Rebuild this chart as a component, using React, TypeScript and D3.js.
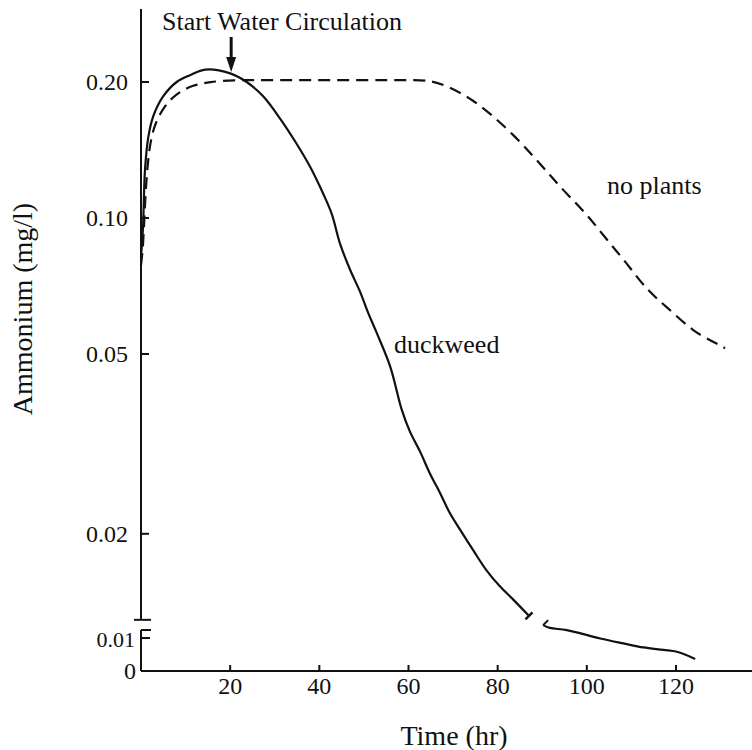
import React from 'react';
import * as d3 from 'd3';

// Duckweed (upper, log-scaled part)
const duckweedTime = [0, 0.45, 0.9, 1.64, 2.76, 5.0, 8.0, 11.0, 14.4, 20.0, 23.7, 27.4, 31.2, 34.9, 37.9, 40.9, 42.8, 44.6, 46.9, 49.1, 51.0, 52.9, 55.9, 58.5, 60.3, 62.6, 64.8, 67.1, 69.3, 71.6, 74.5, 77.5, 80.5, 83.5, 86.9];
const duckweedValue = [0.082, 0.0955, 0.128, 0.151, 0.168, 0.186, 0.2, 0.207, 0.213, 0.209, 0.2, 0.186, 0.166, 0.146, 0.13, 0.113, 0.102, 0.088, 0.0768, 0.0688, 0.0615, 0.0556, 0.0469, 0.0376, 0.0337, 0.0304, 0.0272, 0.0246, 0.0222, 0.0204, 0.0184, 0.0166, 0.0153, 0.0143, 0.0132];
// Duckweed (below the axis break)
const duckweedLowTime = [90.2, 91.7, 95.5, 103.0, 108.2, 112.7, 117.2, 120.2, 124.3];
const duckweedLowValue = [0.0148, 0.0139, 0.0132, 0.0105, 0.0089, 0.0076, 0.0068, 0.0062, 0.0039];
// No plants
const noPlantsTime = [0, 0.5, 0.9, 1.64, 2.76, 5.0, 8.0, 11.7, 15.5, 20, 30, 40, 50, 60, 64.8, 69.3, 74.5, 79.0, 83.5, 88.0, 91.7, 95.5, 100.0, 104.5, 109.0, 113.4, 117.9, 123.9, 128.4, 131.0];
const noPlantsValue = [0.0787, 0.0864, 0.1096, 0.139, 0.159, 0.176, 0.189, 0.197, 0.2, 0.202, 0.202, 0.202, 0.202, 0.202, 0.202, 0.195, 0.1825, 0.168, 0.153, 0.137, 0.1245, 0.113, 0.102, 0.0894, 0.0794, 0.0693, 0.0636, 0.056, 0.0532, 0.0515];

const xTicks = [20, 40, 60, 80, 100, 120];
const yTicks = [0.2, 0.1, 0.05, 0.02];
const yTickLabels = ['0.20', '0.10', '0.05', '0.02'];
const lowTick = 0.01;
const lowTickLabel = '0.01';
const zeroLabel = '0';

const FONT = "'Liberation Serif', 'Times New Roman', serif";

export default function App() {
  const W = 752, H = 750;
  const x = d3.scaleLinear().domain([0, 120]).range([141, 676]);
  const yLog = d3.scaleLog().domain([0.01, 0.2]).range([669.8, 82]);
  const yLow = d3.scaleLinear().domain([0, 0.01]).range([671, 640]);
  const AX = x(0);
  const AY = yLow(0);
  const upperTop = yLog(0.29);
  const upperBottom = yLog(0.0129);

  const mk = (ts: number[], vs: number[], ys: (v: number) => number, curve: d3.CurveFactory) =>
    d3.line<number>()
      .x((d, i) => x(ts[i]))
      .y((d) => ys(d))
      .curve(curve)(vs) || '';

  const duckPath = mk(duckweedTime, duckweedValue, (v) => yLog(v), d3.curveCatmullRom.alpha(0.5));
  const duckLowPath = mk(duckweedLowTime, duckweedLowValue, (v) => yLow(v), d3.curveCatmullRom.alpha(0.5));
  const noPlantsPath = mk(noPlantsTime, noPlantsValue, (v) => yLog(v), d3.curveBasis);

  const dEndX = x(duckweedTime[duckweedTime.length - 1]);
  const dEndY = yLog(duckweedValue[duckweedValue.length - 1]);
  const lStartX = x(duckweedLowTime[0]);
  const lStartY = yLow(duckweedLowValue[0]);

  const arrowX = x(20) + 1;

  return (
    <svg width={W} height={H} style={{ position: 'absolute', left: 0, top: 0, background: '#fff' }}
      fontFamily={FONT}>
      <rect x={0} y={0} width={W} height={H} fill="#fff" />
      {/* Y axis upper segment */}
      <line x1={AX} x2={AX} y1={upperTop} y2={upperBottom} stroke="#111" strokeWidth={2} />
      <line x1={AX - 7} x2={AX + 10} y1={upperBottom} y2={upperBottom} stroke="#111" strokeWidth={2} />
      {/* lower segment */}
      <line x1={AX} x2={AX + 10} y1={630} y2={630} stroke="#111" strokeWidth={2} />
      <line x1={AX} x2={AX} y1={630} y2={AY} stroke="#111" strokeWidth={2} />
      <line x1={AX} x2={AX + 9} y1={yLow(lowTick) - 2} y2={yLow(lowTick) - 2} stroke="#111" strokeWidth={2} />
      {/* X axis */}
      <line x1={AX} x2={W} y1={AY} y2={AY} stroke="#111" strokeWidth={2} />
      {xTicks.map((t) => (
        <g key={t}>
          <line x1={x(t)} x2={x(t)} y1={AY} y2={AY - 6} stroke="#111" strokeWidth={2} />
          <text x={x(t)} y={694} textAnchor="middle" fontSize={24} fill="#111">{t}</text>
        </g>
      ))}
      {yTicks.map((v, i) => (
        <g key={v}>
          <line x1={AX} x2={AX + 8} y1={yLog(v)} y2={yLog(v)} stroke="#111" strokeWidth={2} />
          <text x={128} y={yLog(v) + 8} textAnchor="end" fontSize={24} fill="#111">{yTickLabels[i]}</text>
        </g>
      ))}
      <text x={135} y={yLow(lowTick) + 7} textAnchor="end" fontSize={22} fill="#111">{lowTickLabel}</text>
      <text x={136} y={AY + 8} textAnchor="end" fontSize={24} fill="#111">{zeroLabel}</text>

      {/* Curves */}
      <path d={noPlantsPath} fill="none" stroke="#111" strokeWidth={2.2} strokeDasharray="12,7" />
      <path d={duckPath} fill="none" stroke="#111" strokeWidth={2.2} />
      <path d={duckLowPath} fill="none" stroke="#111" strokeWidth={2.2} />
      <line x1={dEndX - 3} x2={dEndX + 4} y1={dEndY + 4} y2={dEndY - 3} stroke="#111" strokeWidth={2.5} />
      <line x1={lStartX} x2={lStartX + 5} y1={lStartY} y2={lStartY - 5} stroke="#111" strokeWidth={2} />

      {/* Annotation */}
      <text x={162} y={30} fontSize={26} fill="#111">Start Water Circulation</text>
      <line x1={arrowX} x2={arrowX} y1={37} y2={60} stroke="#111" strokeWidth={3} />
      <polygon points={`${arrowX - 5},57 ${arrowX + 5},57 ${arrowX},72`} fill="#111" />

      <text x={607} y={194} fontSize={26} fill="#111">no plants</text>
      <text x={394} y={353} fontSize={26} fill="#111">duckweed</text>

      <text x={454} y={745} textAnchor="middle" fontSize={28} fill="#111">Time (hr)</text>
      <text transform={`translate(32, 309) rotate(-90)`} textAnchor="middle" fontSize={28} fill="#111">Ammonium (mg/l)</text>
    </svg>
  );
}
